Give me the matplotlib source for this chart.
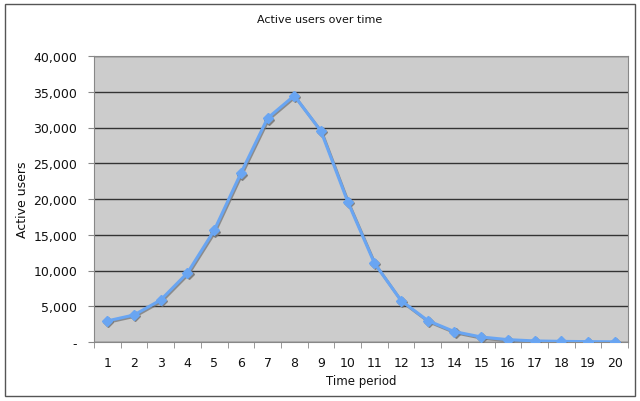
import matplotlib
matplotlib.use("Agg")
import matplotlib.pyplot as plt
import matplotlib.transforms as mtransforms
from matplotlib.ticker import FixedLocator, FuncFormatter
from matplotlib.patches import Rectangle

periods = list(range(1, 21))
active_users = [2950, 3780, 5880, 9660, 15600, 23600, 31300, 34450, 29500, 19650,
                11050, 5790, 2990, 1450, 700, 330, 150, 90, 50, 20]
y_ticks = [0, 5000, 10000, 15000, 20000, 25000, 30000, 35000, 40000]

fig = plt.figure(figsize=(6.4, 4.02), dpi=100)
fig.patch.set_facecolor("white")
fig.patches.append(Rectangle((5/640, 1-397/402), 630/640, 392/402, transform=fig.transFigure,
                             fill=False, edgecolor="#555555", linewidth=1.0))
ax = fig.add_axes([94/640, 1-343/402, (628-94)/640, (343-57)/402])
ax.set_facecolor("#cccccc")

shadow_tr = mtransforms.offset_copy(ax.transData, fig=fig, x=0.8, y=-1.0, units="points")
ax.plot(periods, active_users, color="#707070", lw=2.0, marker="D", ms=5, mec="#707070",
        mfc="#707070", transform=shadow_tr, zorder=3, alpha=0.7)
ax.plot(periods, active_users, color="#69a5f2", lw=2.2, marker="D", ms=5, mec="#69a5f2",
        mfc="#69a5f2", zorder=4)

ax.set_xlim(0.5, 20.5)
ax.set_ylim(0, 40000)
ax.yaxis.set_major_locator(FixedLocator(y_ticks))
ax.yaxis.set_major_formatter(FuncFormatter(lambda v, p: "-" if v == 0 else f"{int(v):,}"))
ax.grid(axis="y", color="#333333", lw=1.0)
ax.set_axisbelow(True)

ax.set_xticks(periods)
ax.set_xticklabels([str(p) for p in periods])
ax.set_xticks([p + 0.5 for p in range(0, 21)], minor=True)
ax.tick_params(axis="x", which="major", length=0, pad=10, labelsize=9, labelcolor="#111111")
ax.tick_params(axis="x", which="minor", length=4, color="#888888", direction="out")
ax.tick_params(axis="y", which="major", length=4, color="#888888", direction="out", labelsize=9,
               labelcolor="#111111", pad=8)

for s in ["top", "right", "left", "bottom"]:
    ax.spines[s].set_color("#888888")
    ax.spines[s].set_linewidth(0.8)

ax.set_xlabel("Time period", fontsize=8.5, labelpad=4, color="#111111")
ax.set_ylabel("Active users", fontsize=9, color="#111111")
ax.yaxis.set_label_coords((29-94)/534, 0.5)
fig.text(0.5, 1-20/402, "Active users over time", ha="center", va="center", fontsize=8, color="#111111")

fig.savefig("out.png", dpi=100)
